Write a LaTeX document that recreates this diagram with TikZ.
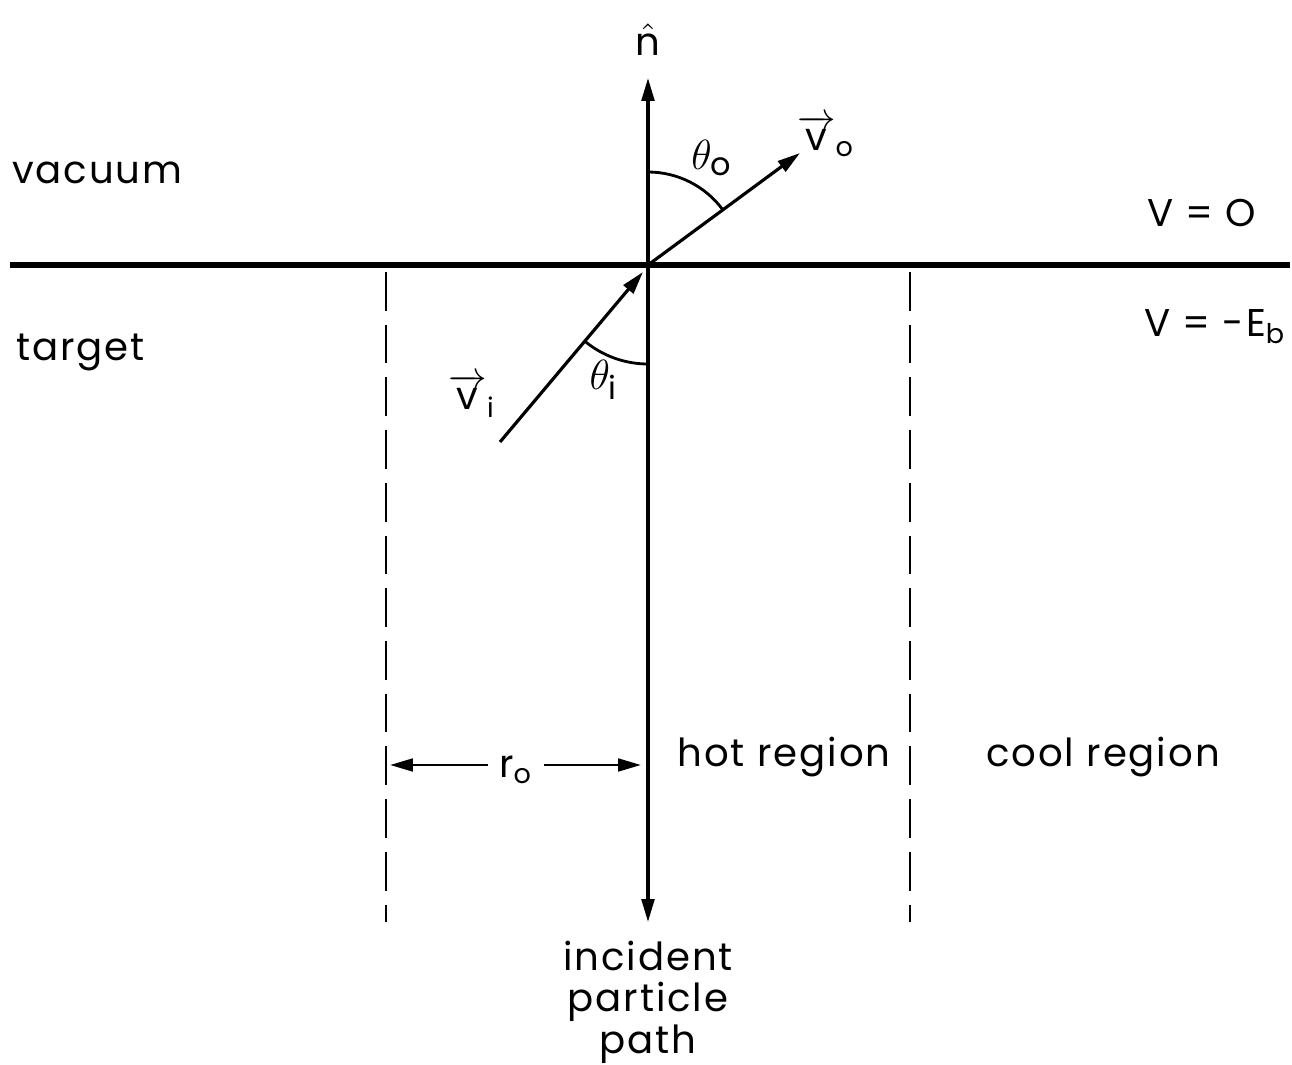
\documentclass[tikz,border=0pt]{standalone}
\usepackage{amsmath}
\usepackage{fontspec}
\setmainfont{Poppins}[LetterSpace=5]
\usetikzlibrary{arrows.meta,calc}

\tikzset{
  lbl/.style={font=\fontsize{11}{13}\selectfont, inner sep=1pt},
  ang/.style={font=\fontsize{13}{15}\selectfont, inner sep=1pt},
  vec/.style={line width=0.9pt, -{Triangle[length=6.5pt,width=3.6pt]}},
  cut/.style={line width=0.8pt, dash pattern=on 11pt off 4pt},
}

\begin{document}
\begin{tikzpicture}
  \useasboundingbox (0,0) rectangle (12.92,-10.65);
  % Surface and origin
  \coordinate (O) at (6.48,-2.65);
  \coordinate (sl) at (0.10,-2.65);
  \coordinate (sr) at (12.90,-2.65);
  \draw[line width=1.5pt] (sl) -- (sr);

  % Normal axis / incident particle path
  \coordinate (top) at (6.48,-0.78);
  \coordinate (bot) at (6.48,-9.22);
  \draw[vec] (O) -- (top);
  \draw[vec] (O) -- (bot);
  \node[lbl] (n) at (6.48,-0.40) {$\hat{\text{n}}$};

  % Outgoing velocity
  \coordinate (vo) at (8.00,-1.53);
  \draw[vec] (O) -- (vo);
  \node[lbl] (vol) at (8.26,-1.36) {$\overrightarrow{\text{v}}_{\text{o}}$};
  \draw[line width=0.8pt] ($(O)+(90:0.93)$) arc[start angle=90, end angle=36.4, radius=0.93];
  \node[ang] (tho) at (7.12,-1.58) {$\theta_{\text{o}}$};

  % Incident velocity
  \coordinate (vs) at (5.00,-4.42);
  \coordinate (vt) at (6.43,-2.72);
  \draw[vec] (vs) -- (vt);
  \node[lbl] (vil) at (4.72,-3.96) {$\overrightarrow{\text{v}}_{\text{i}}$};
  \draw[line width=0.8pt] ($(O)+(270:0.99)$) arc[start angle=270, end angle=230.3, radius=0.99];
  \node[ang] (thi) at (6.04,-3.80) {$\theta_{\text{i}}$};

  % Hot region boundaries
  \coordinate (dl1) at (3.86,-2.72);
  \coordinate (dl2) at (3.86,-9.22);
  \coordinate (dr1) at (9.10,-2.72);
  \coordinate (dr2) at (9.10,-9.22);
  \draw[cut] (dl1) -- (dl2);
  \draw[cut] (dr1) -- (dr2);

  % Radius r_o
  \coordinate (ra) at (3.90,-7.65);
  \coordinate (rb) at (6.41,-7.65);
  \node[lbl, fill=white, inner sep=3pt] (ro) at (5.16,-7.70) {r\textsubscript{o}};
  \draw[line width=0.8pt, -{Triangle[length=6.5pt,width=3.6pt]}] (ro.west |- ra) -- (ra);
  \draw[line width=0.8pt, -{Triangle[length=6.5pt,width=3.6pt]}] (ro.east |- rb) -- (rb);

  % Labels
  \node[lbl, anchor=west] (vac) at (0.08,-1.73) {vacuum};
  \node[lbl, anchor=west] (tgt) at (0.12,-3.52) {target};
  \node[lbl, anchor=west] (v0) at (11.43,-2.13) {V = O};
  \node[lbl, anchor=west] (veb) at (11.40,-3.27) {V = -E\textsubscript{b}};
  \node[lbl] (hot) at (7.84,-7.57) {hot region};
  \node[lbl] (cool) at (11.03,-7.57) {cool region};
  \node[lbl, align=center, font=\fontsize{11}{11.8}\selectfont] (path) at (6.48,-10.02) {incident\\particle\\path};
\end{tikzpicture}
\end{document}
